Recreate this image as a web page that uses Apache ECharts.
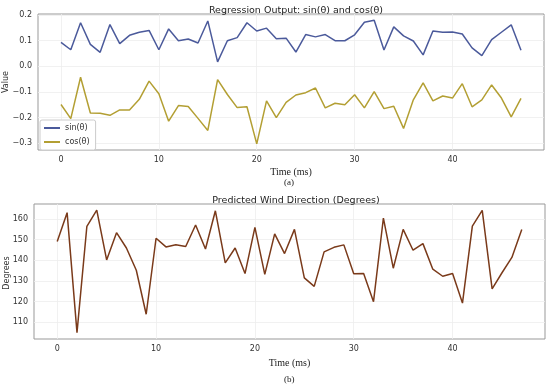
<!DOCTYPE html>
<html><head><meta charset="utf-8">
<script src="https://cdn.jsdelivr.net/npm/echarts@6/dist/echarts.min.js"></script>
<style>html,body{margin:0;padding:0;background:#fff}#c{width:550px;height:390px}</style>
</head><body><div id="c"></div>
<script>
const timeSteps = Array.from({length: 48}, (_, i) => i);
const sinValues = [0.093,0.064,0.169,0.085,0.054,0.162,0.088,0.120,0.132,0.139,0.064,0.145,0.099,0.106,0.090,0.176,0.017,0.099,0.111,0.169,0.137,0.148,0.107,0.109,0.055,0.123,0.114,0.123,0.099,0.099,0.122,0.171,0.179,0.063,0.153,0.118,0.098,0.044,0.137,0.132,0.133,0.125,0.071,0.041,0.103,0.132,0.161,0.062];
const cosValues = [-0.149,-0.204,-0.043,-0.182,-0.183,-0.191,-0.170,-0.170,-0.129,-0.058,-0.107,-0.214,-0.153,-0.157,-0.203,-0.250,-0.052,-0.110,-0.161,-0.158,-0.302,-0.135,-0.200,-0.141,-0.112,-0.103,-0.085,-0.162,-0.144,-0.150,-0.111,-0.162,-0.099,-0.165,-0.156,-0.242,-0.131,-0.065,-0.135,-0.116,-0.124,-0.068,-0.158,-0.131,-0.073,-0.124,-0.197,-0.125];
const degValues = [149.1,163.1,105.0,156.5,164.3,140.2,153.4,146.0,135.2,113.9,150.7,146.5,147.6,146.7,157.1,145.5,164.0,138.8,146.0,133.6,156.0,133.2,152.8,143.3,155.0,131.5,127.4,144.1,146.3,147.5,133.5,133.6,120.0,160.5,136.2,155.0,144.9,148.1,135.7,132.3,133.6,119.3,156.6,164.2,126.2,134.0,141.4,154.9];
const xTicks = [0, 10, 20, 30, 40];
const valueTicks = [-0.3, -0.2, -0.1, 0.0, 0.1, 0.2];
const degTicks = [110, 120, 130, 140, 150, 160];

const pair = (arr) => arr.map((v, i) => [timeSteps[i], v]);
const fmt1 = (v) => { const s = Math.abs(v).toFixed(1); return (v < -1e-9 ? '\u2212' : '') + s; };
const sans = 'DejaVu Sans';
const serif = 'Liberation Serif';
const lbl = {color: '#333', fontFamily: sans, fontSize: 8};
const split = {show: true, lineStyle: {color: '#eeeeee', width: 0.8}};

const chart = echarts.init(document.getElementById('c'), null, {renderer: 'canvas'});
chart.setOption({
  animation: false,
  backgroundColor: '#fff',
  title: [
    {text: 'Regression Output: sin(\u03b8) and cos(\u03b8)', left: 291, top: 1, textAlign: 'center',
     textStyle: {fontFamily: sans, fontSize: 9.5, fontWeight: 'normal', color: '#222'}},
    {text: 'Predicted Wind Direction (Degrees)', left: 291, top: 191, textAlign: 'center',
     textStyle: {fontFamily: sans, fontSize: 9.5, fontWeight: 'normal', color: '#222'}}
  ],
  graphic: [
    {type: 'text', left: 284, top: 178, style: {text: '(a)', font: '9px "Liberation Serif"', fill: '#222'}},
    {type: 'text', left: 284, top: 375, style: {text: '(b)', font: '9px "Liberation Serif"', fill: '#222'}},
    {type: 'text', x: 6, y: 82, rotation: Math.PI / 2,
     style: {text: 'Value', font: '8px "DejaVu Sans"', fill: '#333', align: 'center', verticalAlign: 'middle'}},
    {type: 'text', x: 7, y: 273, rotation: Math.PI / 2,
     style: {text: 'Degrees', font: '8px "DejaVu Sans"', fill: '#333', align: 'center', verticalAlign: 'middle'}}
  ],
  legend: {
    left: 40, top: 120, orient: 'vertical', itemWidth: 16, itemHeight: 2, itemGap: 6,
    padding: [4, 6, 4, 4],
    backgroundColor: '#fff', borderColor: '#ccc', borderWidth: 1, borderRadius: 2,
    textStyle: {fontFamily: sans, fontSize: 8, color: '#333'},
    icon: 'rect',
    data: ['sin(\u03b8)', 'cos(\u03b8)']
  },
  grid: [
    {left: 38, top: 14, width: 506, height: 136, show: true, borderColor: '#999', borderWidth: 1,
     containLabel: false, outerBoundsMode: 'none'},
    {left: 34, top: 204, width: 511, height: 135, show: true, borderColor: '#999', borderWidth: 1,
     containLabel: false, outerBoundsMode: 'none'}
  ],
  xAxis: [
    {type: 'value', gridIndex: 0, min: -2.35, max: 49.35,
     name: 'Time (ms)', nameLocation: 'middle', nameGap: 17,
     nameTextStyle: {fontFamily: serif, fontSize: 10, color: '#222'},
     axisLine: {show: false}, axisTick: {show: false, customValues: xTicks},
     axisLabel: Object.assign({customValues: xTicks, margin: 6}, lbl), splitLine: split},
    {type: 'value', gridIndex: 1, min: -2.35, max: 49.35,
     name: 'Time (ms)', nameLocation: 'middle', nameGap: 19,
     nameTextStyle: {fontFamily: serif, fontSize: 10, color: '#222'},
     axisLine: {show: false}, axisTick: {show: false, customValues: xTicks},
     axisLabel: Object.assign({customValues: xTicks, margin: 6}, lbl), splitLine: split}
  ],
  yAxis: [
    {type: 'value', gridIndex: 0, min: -0.326, max: 0.203,
     axisLine: {show: false}, axisTick: {show: false, customValues: valueTicks},
     axisLabel: Object.assign({customValues: valueTicks, formatter: fmt1, margin: 6}, lbl), splitLine: split},
    {type: 'value', gridIndex: 1, min: 101.9, max: 167.3,
     axisLine: {show: false}, axisTick: {show: false, customValues: degTicks},
     axisLabel: Object.assign({customValues: degTicks, margin: 6}, lbl), splitLine: split}
  ],
  series: [
    {name: 'sin(\u03b8)', type: 'line', xAxisIndex: 0, yAxisIndex: 0, data: pair(sinValues),
     showSymbol: false, symbol: 'none', color: '#4b5a9b', lineStyle: {width: 1.5, color: '#4b5a9b'}},
    {name: 'cos(\u03b8)', type: 'line', xAxisIndex: 0, yAxisIndex: 0, data: pair(cosValues),
     showSymbol: false, symbol: 'none', color: '#b39f33', lineStyle: {width: 1.5, color: '#b39f33'}},
    {name: 'deg', type: 'line', xAxisIndex: 1, yAxisIndex: 1, data: pair(degValues),
     showSymbol: false, symbol: 'none', color: '#7a3a1a', lineStyle: {width: 1.5, color: '#7a3a1a'}}
  ]
});
</script></body></html>
